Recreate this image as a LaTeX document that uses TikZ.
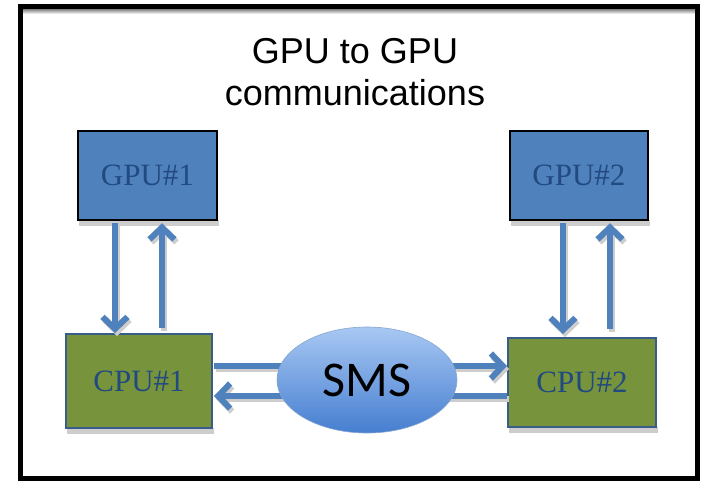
\documentclass[tikz,border=0pt]{standalone}
\usepackage{fontspec}
\setmainfont{Liberation Serif}
\newfontfamily\titlefont{Liberation Sans}
\newfontfamily\smsfont{Carlito}
\usetikzlibrary{arrows.meta,shapes.geometric}
\definecolor{arrblue}{RGB}{79,129,189}
\definecolor{gpufill}{RGB}{79,129,189}
\definecolor{txtblue}{RGB}{33,74,128}
\definecolor{cpufill}{RGB}{119,147,60}
\definecolor{cpuborder}{RGB}{56,93,138}
\definecolor{smstop}{RGB}{168,200,243}
\definecolor{smsbot}{RGB}{70,126,208}
\definecolor{shade}{RGB}{205,205,205}
\tikzset{
  gpubox/.style={rectangle, draw=black, line width=2.5pt, fill=gpufill, inner sep=0pt,
    text=txtblue, font=\fontsize{31}{33}\selectfont},
  cpubox/.style={rectangle, draw=cpuborder, line width=2pt, fill=cpufill, inner sep=0pt,
    text=txtblue, font=\fontsize{31}{33}\selectfont},
  boxshadow/.style={fill=shade, draw=none},
  arr/.style={draw=arrblue, line width=6pt, -{Straight Barb[length=12pt,width=25pt]}},
  arrshadow/.style={draw=shade, line width=6pt, -{Straight Barb[length=12pt,width=25pt]},
    transform canvas={xshift=2pt,yshift=-3pt}},
}
\begin{document}
\begin{tikzpicture}[x=1pt,y=-1pt]
\useasboundingbox (0,0) rectangle (702,480);
\fill[white] (0,0) rectangle (702,480);
% frame
\fill[shade] (21,9) rectangle (695,14);
\draw[line width=5pt] (20.5,6.5) rectangle (697.5,478.5);
% title
\node[font=\titlefont\fontsize{36}{42}\selectfont, align=center, anchor=base] (title) at (355,105)
  {GPU to GPU\\communications};
% box shadows
\fill[boxshadow] (79,220) rectangle (219,226);
\fill[boxshadow] (511,220) rectangle (650,226);
\fill[boxshadow] (67,428) rectangle (214,434);
\fill[boxshadow] (509,427) rectangle (658,433);
% boxes
\node[gpubox, minimum width=139pt, minimum height=89pt] (gpu1) at (147.5,175.5) {GPU\#1};
\node[gpubox, minimum width=138pt, minimum height=89pt] (gpu2) at (579,175.5) {GPU\#2};
\node[cpubox, minimum width=146pt, minimum height=94pt] (cpu1) at (139,381) {CPU\#1};
\node[cpubox, minimum width=148pt, minimum height=89pt] (cpu2) at (582,382.5) {CPU\#2};
% vertical arrows GPU#1
\coordinate (g1d) at ([xshift=-32.5pt]gpu1.south);
\coordinate (g1u) at ([xshift=14.5pt]gpu1.south);
\draw[arrshadow] ([yshift=-2pt]g1d) -- (g1d |- cpu1.north);
\draw[arrshadow, shorten <=5pt] (g1u |- cpu1.north) -- ([yshift=-2pt]g1u);
\draw[arr] ([yshift=-2pt]g1d) -- (g1d |- cpu1.north);
\draw[arr, shorten <=5pt] (g1u |- cpu1.north) -- ([yshift=-2pt]g1u);
% vertical arrows GPU#2
\coordinate (g2d) at ([xshift=-16pt]gpu2.south);
\coordinate (g2u) at ([xshift=31pt]gpu2.south);
\draw[arrshadow] ([yshift=-2pt]g2d) -- ([yshift=3pt]g2d |- cpu2.north);
\draw[arrshadow, shorten <=8pt] (g2u |- cpu2.north) -- ([yshift=-2pt]g2u);
\draw[arr] ([yshift=-2pt]g2d) -- ([yshift=3pt]g2d |- cpu2.north);
\draw[arr, shorten <=8pt] (g2u |- cpu2.north) -- ([yshift=-2pt]g2u);
% horizontal arrows
\coordinate (h1) at ([yshift=15pt]cpu1.east);
\coordinate (h2) at ([yshift=-15pt]cpu1.east);
\draw[arrshadow] ([xshift=1pt]h1) -- (h1 -| cpu2.west);
\draw[arrshadow] (h2 -| cpu2.west) -- ([xshift=1pt]h2);
\draw[arr] ([xshift=1pt]h1) -- (h1 -| cpu2.west);
\draw[arr] (h2 -| cpu2.west) -- ([xshift=1pt]h2);
% SMS
\node[ellipse, minimum width=180pt, minimum height=106pt, inner sep=0pt,
  top color=smstop, bottom color=smsbot, draw=arrblue!70, line width=0.6pt,
  font=\smsfont\fontsize{50}{52}\selectfont] (sms) at (367,380) {SMS};
\end{tikzpicture}
\end{document}
